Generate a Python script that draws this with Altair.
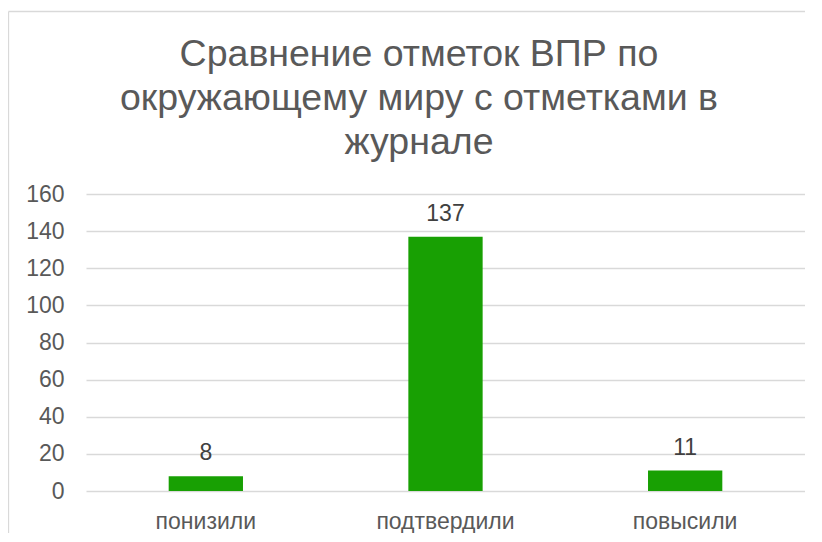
import altair as alt
import pandas as pd

categories = ["понизили", "подтвердили", "повысили"]
values = [8, 137, 11]
y_ticks = [0, 20, 40, 60, 80, 100, 120, 140, 160]
title_lines = ["Сравнение отметок ВПР по", "окружающему миру с отметками в", "журнале"]

df = pd.DataFrame({"cat": categories, "val": values})

FONT = "Liberation Sans"
W, H = 719, 297

x_enc = alt.X("cat:N", sort=categories, title=None,
              scale=alt.Scale(paddingInner=0.69, paddingOuter=0.345),
              axis=alt.Axis(labelFontSize=23, labelColor="#595959", labelFont=FONT,
                            labelBaseline="alphabetic", labelPadding=37,
                            ticks=False, domain=False, labelAngle=0, labelOverlap=False))
y_enc = alt.Y("val:Q", title=None,
              scale=alt.Scale(domain=[0, 160], nice=False),
              axis=alt.Axis(values=y_ticks, labelFontSize=23, labelColor="#595959",
                            labelFont=FONT, labelPadding=22, ticks=False, domain=False,
                            labelOverlap=False, labelBaseline="middle",
                            gridColor="#D9D9D9", gridWidth=1.3))

base = alt.Chart(df).encode(x=x_enc, y=y_enc)
bars = base.mark_bar(color="#18A003")
labels = base.mark_text(baseline="alphabetic", dy=-16, fontSize=23, color="#404040",
                        font=FONT).encode(text="val:Q")

title_layers = []
for i, line in enumerate(title_lines):
    title_layers.append(
        alt.Chart(pd.DataFrame({"t": [line]})).mark_text(
            fontSize=37.5, font=FONT, color="#595959", align="center",
            baseline="alphabetic").encode(
            text="t:N", x=alt.value(W / 2 - 26.5), y=alt.value(-128 + 44 * i)))

border_top = alt.Chart(pd.DataFrame({"a": [0]})).mark_rule(
    color="#D9D9D9", strokeWidth=1.3).encode(
    x=alt.value(-77.5), x2=alt.value(820), y=alt.value(-182.5))
border_left = alt.Chart(pd.DataFrame({"a": [0]})).mark_rule(
    color="#D9D9D9", strokeWidth=1.3).encode(
    x=alt.value(-77.5), y=alt.value(-182.5), y2=alt.value(600))

chart = alt.layer(bars, labels, *title_layers, border_top, border_left).properties(
    width=W, height=H,
    padding={"left": 78, "top": 186, "right": 0, "bottom": 42},
    autosize=alt.AutoSizeParams(type="none"),
).configure(background="white").configure_view(stroke=None)

chart.save("out.html", embed_options={"renderer": "svg", "actions": False})
